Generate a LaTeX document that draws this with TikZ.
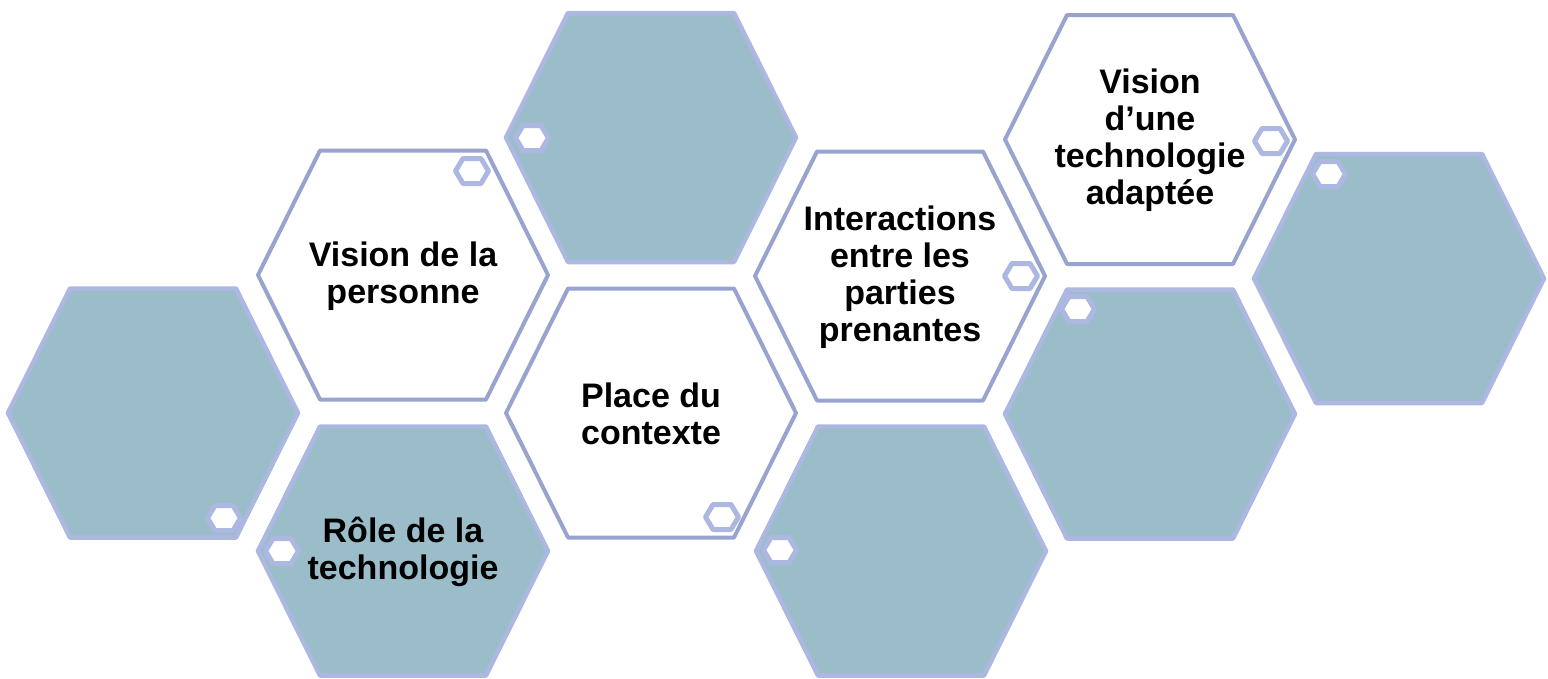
\documentclass[tikz,border=0pt]{standalone}
\usepackage{fontspec}
\setmainfont{Liberation Sans}
\definecolor{tealfill}{RGB}{155,189,202}
\definecolor{lightedge}{RGB}{172,184,226}
\definecolor{darkedge}{RGB}{152,163,207}
\begin{document}
\begin{tikzpicture}[x=1pt,y=-1pt,
  bighex/.pic={\path[pic actions] (-145,0) -- (-83,-124.5) -- (83,-124.5) -- (145,0) -- (83,124.5) -- (-83,124.5) -- cycle;},
  smallhex/.pic={\path[pic actions] (-16.5,0) -- (-9,-12.5) -- (9,-12.5) -- (16.5,0) -- (9,12.5) -- (-9,12.5) -- cycle;},
  tealhex/.style={fill=tealfill,draw=lightedge,line width=4.5pt,line join=round},
  whitehex/.style={fill=white,draw=darkedge,line width=4pt,line join=round},
  minihex/.style={fill=white,draw=lightedge,line width=5pt,line join=round},
  hextext/.style={font=\bfseries\fontsize{34}{37}\selectfont,align=center,text=black}
]
\useasboundingbox (0,0) rectangle (1548,678);

% hexagon 1 (teal, left)
\pic[tealhex] (h1) at (153,413) {bighex};
\pic[minihex] (s1) at (224,518) {smallhex};
% hexagon 2 (white)
\pic[whitehex] (h2) at (403,275) {bighex};
\pic[minihex] (s2) at (472,171) {smallhex};
\node[hextext] (t2) at (403,276) {Vision de la\\personne};
% hexagon 3 (teal)
\pic[tealhex] (h3) at (403,551) {bighex};
\pic[minihex] (s3) at (282,551) {smallhex};
\node[hextext] (t3) at (403,552) {Rôle de la\\technologie};
% hexagon 4 (teal, top)
\pic[tealhex] (h4) at (651,137.5) {bighex};
\pic[minihex] (s4) at (532,138) {smallhex};
% hexagon 5 (white)
\pic[whitehex] (h5) at (651,413) {bighex};
\pic[minihex] (s5) at (722,517) {smallhex};
\node[hextext] (t5) at (651,414) {Place du\\contexte};
% hexagon 6 (white)
\pic[whitehex] (h6) at (900,276) {bighex};
\pic[minihex] (s6) at (1021,276) {smallhex};
\node[hextext] (t6) at (900,277) {Interactions\\entre les\\parties\\prenantes};
% hexagon 7 (teal)
\pic[tealhex] (h7) at (901,551) {bighex};
\pic[minihex] (s7) at (780,550) {smallhex};
% hexagon 8 (white)
\pic[whitehex] (h8) at (1150,139.5) {bighex};
\pic[minihex] (s8) at (1271,141) {smallhex};
\node[hextext] (t8) at (1150,140) {Vision\\d’une\\technologie\\adaptée};
% hexagon 9 (teal)
\pic[tealhex] (h9) at (1150,414) {bighex};
\pic[minihex] (s9) at (1078,309) {smallhex};
% hexagon 10 (teal, right)
\pic[tealhex] (h10) at (1399,278.5) {bighex};
\pic[minihex] (s10) at (1329,174) {smallhex};
\end{tikzpicture}
\end{document}
